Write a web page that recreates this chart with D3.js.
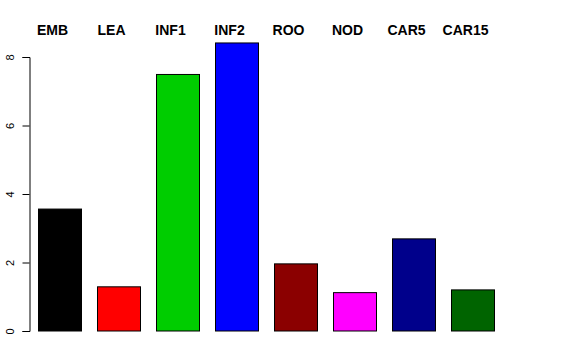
<!DOCTYPE html>
<html><head><meta charset="utf-8">
<script src="https://cdn.jsdelivr.net/npm/d3@7"></script>
<style>body{margin:0;background:#fff}svg{display:block}</style>
</head><body>
<svg id="c" width="576" height="360"></svg>
<script>
const categories = ["EMB","LEA","INF1","INF2","ROO","NOD","CAR5","CAR15"];
const values = [3.56, 1.29, 7.49, 8.41, 1.96, 1.12, 2.69, 1.2];
const colors = ["#000000","#FF0000","#00CD00","#0000FF","#8B0000","#FF00FF","#00008B","#006400"];
const yTicks = [0, 2, 4, 6, 8];

const svg = d3.select("#c");
const x = d3.scaleBand().domain(categories).range([38, 494]).paddingInner(16/59).paddingOuter(0);
const y = d3.scaleLinear().domain([0, 8]).range([331, 57]);

svg.append("g").selectAll("rect").data(categories).join("rect")
  .attr("x", d => x(d) + 0.5)
  .attr("y", (d, i) => y(values[i]))
  .attr("width", x.bandwidth())
  .attr("height", (d, i) => y(0) - y(values[i]))
  .attr("fill", (d, i) => colors[i])
  .attr("stroke", "#000").attr("stroke-width", 1);

const ax = svg.append("g").attr("transform", "translate(29.5,0)")
  .call(d3.axisLeft(y).tickValues(yTicks).tickSize(7).tickFormat(d3.format("d")));
ax.select(".domain").attr("stroke", "#000");
ax.selectAll(".tick line").attr("stroke", "#000");
ax.selectAll(".tick text")
  .attr("font-family", "Liberation Sans, Arial, sans-serif").attr("font-size", 11).attr("fill", "#000")
  .attr("x", null).attr("dy", "0.35em").attr("text-anchor", "middle")
  .attr("transform", "translate(-19,0) rotate(-90)");

svg.append("g").selectAll("text").data(categories).join("text")
  .attr("x", d => x(d) + x.bandwidth() / 2 - 7)
  .attr("y", 35)
  .attr("text-anchor", "middle")
  .attr("font-family", "Liberation Sans, Arial, sans-serif")
  .attr("font-weight", "bold").attr("font-size", 14)
  .text(d => d);
</script>
</body></html>
